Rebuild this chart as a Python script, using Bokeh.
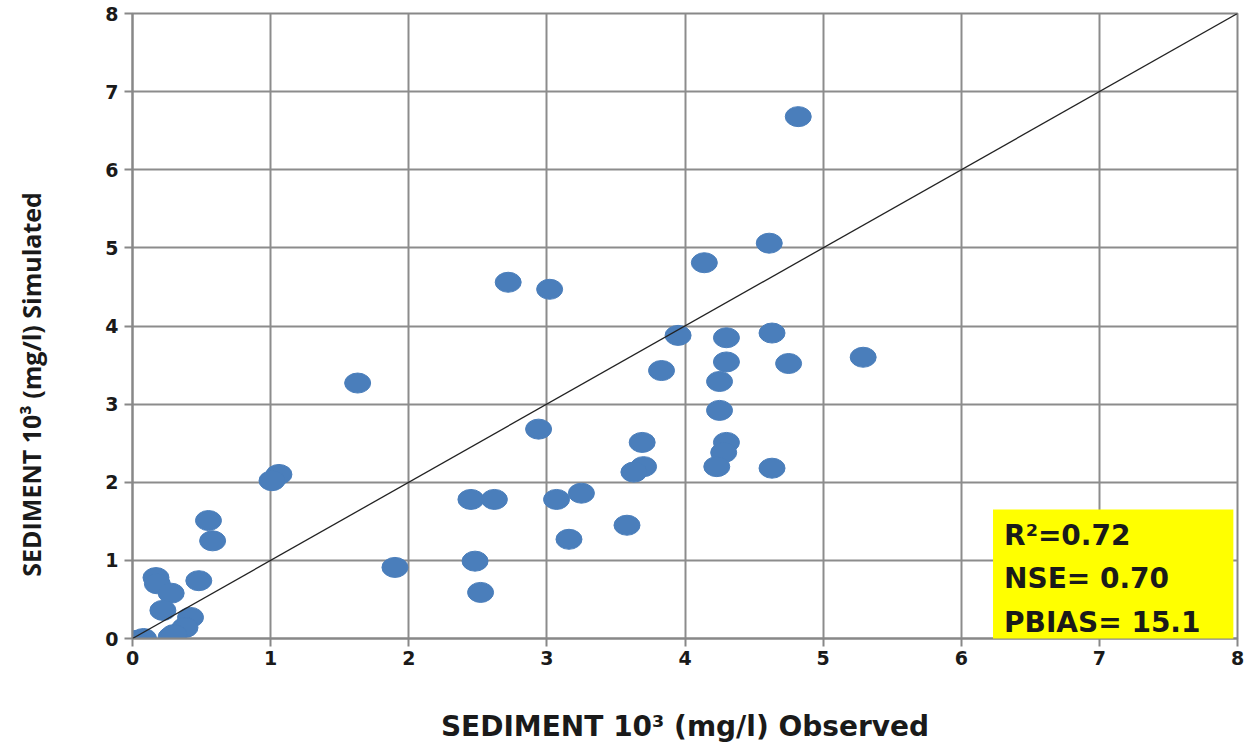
from bokeh.plotting import figure
from bokeh.models import Range1d, BoxAnnotation, Label, FixedTicker, Slope
from bokeh.embed import file_html
from bokeh.resources import INLINE

observed = [4.82, 4.61, 4.14, 2.72, 3.02, 3.95, 4.63, 4.30, 5.29, 4.30, 4.75, 3.83,
            1.63, 4.25, 4.25, 2.94, 3.69, 4.30, 4.28, 3.70, 3.63, 4.63, 4.23, 1.06,
            1.01, 2.45, 2.62, 3.07, 3.25, 3.58, 3.16, 0.55, 0.58, 1.90, 2.48, 2.52,
            0.17, 0.18, 0.48, 0.28, 0.22, 0.42, 0.38, 0.28, 0.04, 0.08, 0.02, 0.30]
simulated = [6.68, 5.06, 4.81, 4.56, 4.47, 3.88, 3.91, 3.85, 3.60, 3.54, 3.52, 3.43,
             3.27, 3.29, 2.92, 2.68, 2.51, 2.51, 2.38, 2.20, 2.13, 2.18, 2.20, 2.10,
             2.02, 1.78, 1.78, 1.78, 1.86, 1.45, 1.27, 1.51, 1.25, 0.91, 0.99, 0.59,
             0.78, 0.70, 0.74, 0.58, 0.36, 0.27, 0.14, 0.02, -0.02, 0.0, -0.04, 0.05]
ticks = [0, 1, 2, 3, 4, 5, 6, 7, 8]
stats = ["R\u00b2=0.72", "NSE= 0.70", "PBIAS= 15.1"]
stats_y = [1.32, 0.77, 0.21]
x_title = "SEDIMENT 10\u00b3 (mg/l) Observed"
y_title = "SEDIMENT 10\u00b3 (mg/l) Simulated"

p = figure(width=1247, height=748, output_backend="svg", toolbar_location=None,
           x_range=Range1d(0, 8), y_range=Range1d(0, 8),
           min_border_left=132, min_border_right=10, min_border_top=13, min_border_bottom=110)
p.outline_line_color = "#888888"
p.outline_line_width = 2
p.background_fill_color = "white"

for ax in (p.xaxis[0], p.yaxis[0]):
    ax.ticker = FixedTicker(ticks=ticks)
    ax.major_label_text_font = "DejaVu Sans"
    ax.major_label_text_font_style = "bold"
    ax.major_label_text_font_size = "19px"
    ax.major_label_text_color = "#1a1a1a"
    ax.axis_line_color = "#888888"
    ax.axis_line_width = 2
    ax.major_tick_line_color = "#888888"
    ax.major_tick_line_width = 2
    ax.major_tick_out = 8
    ax.major_tick_in = 0
    ax.minor_tick_line_color = None
    ax.axis_label_text_font_style = "bold"
    ax.axis_label_text_color = "#1a1a1a"

p.yaxis.major_label_standoff = 6
p.xaxis.major_label_standoff = 4

p.xaxis.axis_label = x_title
p.xaxis.axis_label_text_font = "DejaVu Sans"
p.xaxis.axis_label_text_font_size = "28px"
p.xaxis.axis_label_standoff = 42

# trailing no-break spaces move the vertical title a little below the frame centre
p.yaxis.axis_label = y_title + "\u00a0" * 18
p.yaxis.axis_label_text_font = "Open Sans"
p.yaxis.axis_label_text_font_size = "25px"
p.yaxis.axis_label_standoff = 54

p.xgrid.ticker = FixedTicker(ticks=ticks)
p.ygrid.ticker = FixedTicker(ticks=ticks)
p.grid.grid_line_color = "#8c8c8c"
p.grid.grid_line_width = 2

p.add_layout(Slope(gradient=1, y_intercept=0, line_color="#222222", line_width=1.3))

p.ellipse(x=observed, y=simulated, width=26, height=20, width_units="screen",
          height_units="screen", fill_color="#4A7EBB", line_color="#4A7EBB")

p.add_layout(BoxAnnotation(left=6.23, right=7.97, bottom=-0.03, top=1.65,
                           fill_color="#FFFF00", fill_alpha=1.0, line_color=None))
for t, yy in zip(stats, stats_y):
    p.add_layout(Label(x=6.31, y=yy, text=t, text_font="DejaVu Sans", text_font_style="bold",
                       text_font_size="28px", text_color="#1a1a1a", text_baseline="middle"))

open("out.html", "w").write(file_html(p, INLINE))
